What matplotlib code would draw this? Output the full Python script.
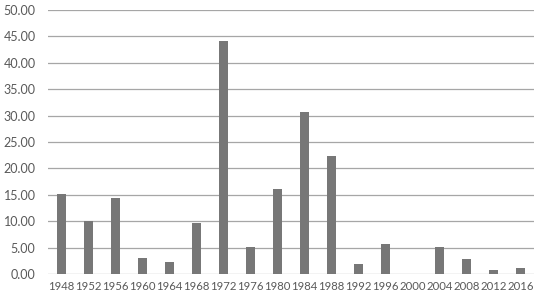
import matplotlib.pyplot as plt

years = ['1948', '1952', '1956', '1960', '1964', '1968', '1972', '1976', '1980',
         '1984', '1988', '1992', '1996', '2000', '2004', '2008', '2012', '2016']
values = [15.2, 9.95, 14.45, 2.95, 2.27, 9.58, 44.05, 5.17, 16.15,
          30.7, 22.4, 1.9, 5.6, 0.0, 5.04, 2.9, 0.8, 1.2]
yticks = [0, 5, 10, 15, 20, 25, 30, 35, 40, 45, 50]

W, H = 541, 298
fig = plt.figure(figsize=(W / 100, H / 100), dpi=100)
ax = fig.add_axes([48 / W, 24 / H, (534 - 48) / W, (274 - 10) / H])

x = range(len(years))
ax.bar(x, values, width=0.3, color='#777777', zorder=3)

ax.set_xlim(-0.5, len(years) - 0.5)
ax.set_ylim(0, 50)
ax.set_yticks(yticks)
ax.set_yticklabels(['%.2f' % v for v in yticks])
ax.set_xticks(list(x))
ax.set_xticklabels(years)

ax.grid(axis='y', color='#a6a6a6', linewidth=0.9, zorder=0)
for s in ax.spines.values():
    s.set_visible(False)
ax.tick_params(axis='both', length=0, labelsize=9, colors='#595959')
ax.tick_params(axis='y', pad=9)
ax.tick_params(axis='x', pad=5, labelsize=8.2)
for lbl in ax.get_yticklabels() + ax.get_xticklabels():
    lbl.set_fontfamily('Lato')

fig.savefig('out.png', dpi=100)
